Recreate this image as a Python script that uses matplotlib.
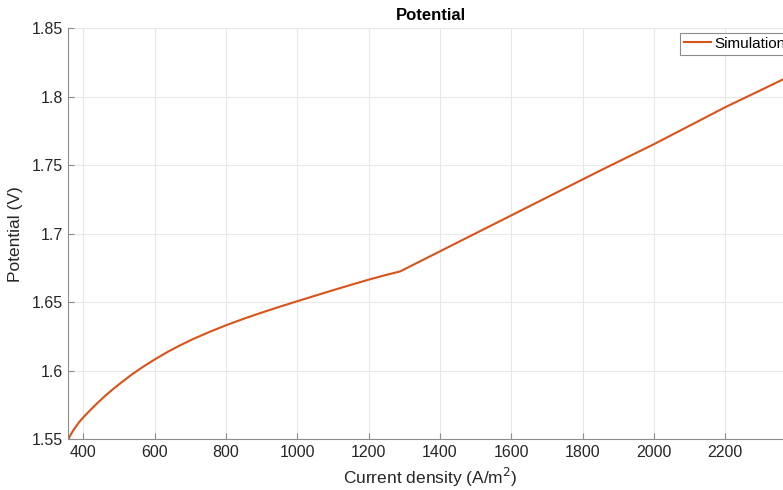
import matplotlib
matplotlib.use("Agg")
import matplotlib.pyplot as plt
from matplotlib.ticker import FuncFormatter

# Cell potential vs. current density
current_density = [358, 366, 374, 388, 402, 420, 439, 462, 486, 510, 537,
                   568, 601, 633, 666, 708, 755, 802, 850, 896, 950, 1000,
                   1050, 1100, 1150, 1200, 1245, 1288, 1849, 2000, 2200, 2363]
potential = [1.5500, 1.5540, 1.5573, 1.5624, 1.5666, 1.5714, 1.5763, 1.5819,
             1.5872, 1.5921, 1.5975, 1.6030, 1.6084, 1.6133, 1.6179, 1.6232,
             1.6285, 1.6334, 1.6380, 1.6421, 1.6467, 1.6508, 1.6548, 1.6588,
             1.6627, 1.6665, 1.6697, 1.6725, 1.7461, 1.7654, 1.7924, 1.8128]
x_ticks = [400, 600, 800, 1000, 1200, 1400, 1600, 1800, 2000, 2200]
y_ticks = [1.55, 1.6, 1.65, 1.7, 1.75, 1.8, 1.85]

plt.rcParams['font.family'] = ['Liberation Sans', 'DejaVu Sans']

W, H = 783, 490
fig = plt.figure(figsize=(W / 100, H / 100), dpi=100)
left, right, bottom, top = 68.3, 793, 490 - 439.3, 490 - 28.3
ax = fig.add_axes([left / W, bottom / H, (right - left) / W, (top - bottom) / H])

ax.plot(current_density, potential, color='#D95319', linewidth=1.5,
        label='Simulation', solid_joinstyle='round')

ax.set_xlim(358, 2390)
ax.set_ylim(1.55, 1.85)
ax.set_xticks(x_ticks)
ax.set_yticks(y_ticks)
ax.yaxis.set_major_formatter(FuncFormatter(lambda v, p: f"{v:g}"))

ax.grid(True, color='#e8e8e8', linewidth=0.8)
ax.set_axisbelow(True)
for s in ('top', 'right'):
    ax.spines[s].set_visible(False)
for s in ('left', 'bottom'):
    ax.spines[s].set_color('#8c8c8c')
    ax.spines[s].set_linewidth(0.8)
ax.tick_params(direction='in', length=4, width=0.8, color='#8c8c8c',
               labelcolor='#262626', labelsize=11.5, pad=4)

ax.set_title('Potential', fontsize=12, fontweight='bold', color='black', pad=6)
ax.set_xlabel('Current density (A/m$^2$)', fontsize=12.5, color='#262626',
              labelpad=4)
ax.set_ylabel('Potential (V)', fontsize=12.5, color='#262626', labelpad=6)

leg = ax.legend(loc='upper left', bbox_to_anchor=(680 / W, 1 - 33 / H),
                bbox_transform=fig.transFigure, fontsize=11, fancybox=False,
                framealpha=1, edgecolor='#8c8c8c', handlelength=1.75,
                handletextpad=0.25, borderpad=0.25, borderaxespad=0)
leg.get_frame().set_linewidth(0.8)

fig.savefig('out.png', dpi=100)
